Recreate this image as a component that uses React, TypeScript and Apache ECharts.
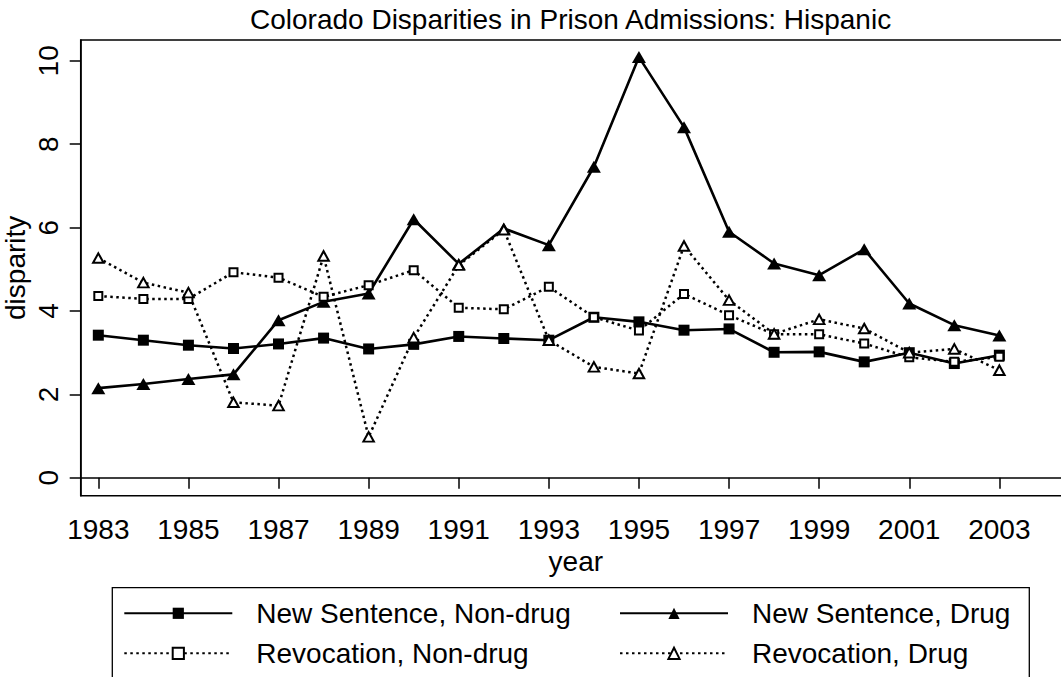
import React, { useEffect, useRef } from "react";
import * as echarts from "echarts";

const FONT = '"Liberation Sans", Arial, Helvetica, sans-serif';

const years = [1983, 1984, 1985, 1986, 1987, 1988, 1989, 1990, 1991, 1992, 1993, 1994, 1995, 1996, 1997, 1998, 1999, 2000, 2001, 2002, 2003];
const newSentenceNonDrug = [3.42, 3.3, 3.18, 3.1, 3.21, 3.35, 3.09, 3.2, 3.39, 3.34, 3.3, 3.85, 3.74, 3.54, 3.57, 3.01, 3.02, 2.78, 3.0, 2.74, 2.94];
const newSentenceDrug = [2.15, 2.25, 2.37, 2.48, 3.78, 4.22, 4.42, 6.2, 5.13, 5.98, 5.58, 7.46, 10.09, 8.41, 5.9, 5.14, 4.86, 5.48, 4.18, 3.66, 3.41];
const revocationNonDrug = [4.36, 4.29, 4.29, 4.93, 4.8, 4.34, 4.62, 4.98, 4.08, 4.04, 4.58, 3.85, 3.53, 4.41, 3.9, 3.44, 3.44, 3.22, 2.89, 2.78, 2.9];
const revocationDrug = [5.27, 4.68, 4.44, 1.81, 1.73, 5.32, 0.98, 3.36, 5.1, 5.95, 3.3, 2.66, 2.5, 5.56, 4.26, 3.45, 3.8, 3.58, 3.0, 3.09, 2.58];
const xTicks = [1983, 1985, 1987, 1989, 1991, 1993, 1995, 1997, 1999, 2001, 2003];
const yTicks = [0, 2, 4, 6, 8, 10];
const seriesNames = ["New Sentence, Non-drug", "New Sentence, Drug", "Revocation, Non-drug", "Revocation, Drug"];
const titleText = "Colorado Disparities in Prison Admissions: Hispanic";

const toPairs = (vals: number[]) => years.map((y, i) => [y, vals[i]]);

export default function App() {
  const ref = useRef<HTMLDivElement>(null);
  useEffect(() => {
    if (!ref.current) return;
    const chart = echarts.init(ref.current, undefined, { renderer: "svg" });
    const solid = { color: "#000", width: 2.6, type: "solid" as const };
    const dotted = { color: "#000", width: 2.5, type: [2.5, 3.5] as any };
    const legendCommon = {
      padding: 0,
      itemWidth: 108,
      itemHeight: 14,
      selectedMode: false,
      textStyle: { fontSize: 28, fontFamily: FONT, color: "#000", padding: [0, 0, 0, 19] },
    };
    chart.setOption({
      animation: false,
      backgroundColor: "#fff",
      title: {
        text: titleText,
        left: 250,
        top: 5.6,
        padding: 0,
        textStyle: { fontSize: 28, fontWeight: "normal", color: "#000", fontFamily: FONT },
      },
      grid: {
        left: 80.7,
        top: 40,
        right: -10,
        bottom: 181.3,
        containLabel: false,
        outerBoundsMode: "none",
        show: true,
        borderColor: "#000",
        borderWidth: 1.5,
        backgroundColor: "#fff",
      },
      xAxis: {
        type: "value",
        min: 1982.609,
        max: 2004.59,
        name: "year",
        nameLocation: "middle",
        nameGap: 52,
        nameMoveOverlap: false,
        nameTextStyle: { fontSize: 28, fontFamily: FONT, color: "#000" },
        axisLine: { show: true, lineStyle: { color: "#000", width: 1.5 } },
        axisTick: { show: true, length: 11, lineStyle: { color: "#000", width: 1.5 }, customValues: xTicks },
        axisLabel: {
          fontSize: 28,
          fontFamily: FONT,
          color: "#000",
          margin: 20,
          customValues: xTicks,
          hideOverlap: false,
          formatter: (v: number) => String(v),
        },
        splitLine: { show: false },
      },
      yAxis: {
        type: "value",
        min: -0.43,
        max: 10.5,
        name: "disparity",
        nameLocation: "middle",
        nameGap: 51,
        nameMoveOverlap: false,
        nameTextStyle: { fontSize: 28, fontFamily: FONT, color: "#000" },
        axisLine: { show: true, lineStyle: { color: "#000", width: 1.5 } },
        axisTick: { show: true, length: 11, lineStyle: { color: "#000", width: 1.5 }, customValues: yTicks },
        axisLabel: {
          fontSize: 28,
          fontFamily: FONT,
          color: "#000",
          margin: 18,
          rotate: 90,
          customValues: yTicks,
          formatter: (v: number) => String(v),
        },
        splitLine: { show: false },
      },
      legend: [
        { ...legendCommon, data: [seriesNames[0]], left: 123.3, top: 599.3 },
        { ...legendCommon, data: [seriesNames[1]], left: 619, top: 599.3 },
        { ...legendCommon, data: [seriesNames[2]], left: 123.3, top: 639.3 },
        { ...legendCommon, data: [seriesNames[3]], left: 619, top: 639.3 },
      ],
      graphic: [
        {
          type: "rect",
          silent: true,
          shape: { x: 112.3, y: 587.7, width: 917, height: 200 },
          style: { fill: "none", stroke: "#000", lineWidth: 1.3 },
        },
      ],
      series: [
        {
          name: seriesNames[0],
          type: "line",
          data: toPairs(newSentenceNonDrug),
          symbol: "rect",
          symbolSize: 11,
          lineStyle: solid,
          itemStyle: { color: "#000", borderWidth: 0 },
          emphasis: { disabled: true },
        },
        {
          name: seriesNames[1],
          type: "line",
          data: toPairs(newSentenceDrug),
          symbol: "triangle",
          symbolSize: [14, 12],
          lineStyle: solid,
          itemStyle: { color: "#000", borderWidth: 0 },
          emphasis: { disabled: true },
        },
        {
          name: seriesNames[2],
          type: "line",
          data: toPairs(revocationNonDrug),
          symbol: "emptyRect",
          symbolSize: 8,
          lineStyle: dotted,
          itemStyle: { color: "#000", borderWidth: 2.3 },
          emphasis: { disabled: true },
        },
        {
          name: seriesNames[3],
          type: "line",
          data: toPairs(revocationDrug),
          symbol: "emptyTriangle",
          symbolSize: [10.5, 9.5],
          lineStyle: dotted,
          itemStyle: { color: "#000", borderWidth: 2.3 },
          emphasis: { disabled: true },
        },
      ],
    });
    return () => chart.dispose();
  }, []);
  return <div ref={ref} style={{ position: "fixed", left: 0, top: 0, width: 1061, height: 677 }} />;
}
